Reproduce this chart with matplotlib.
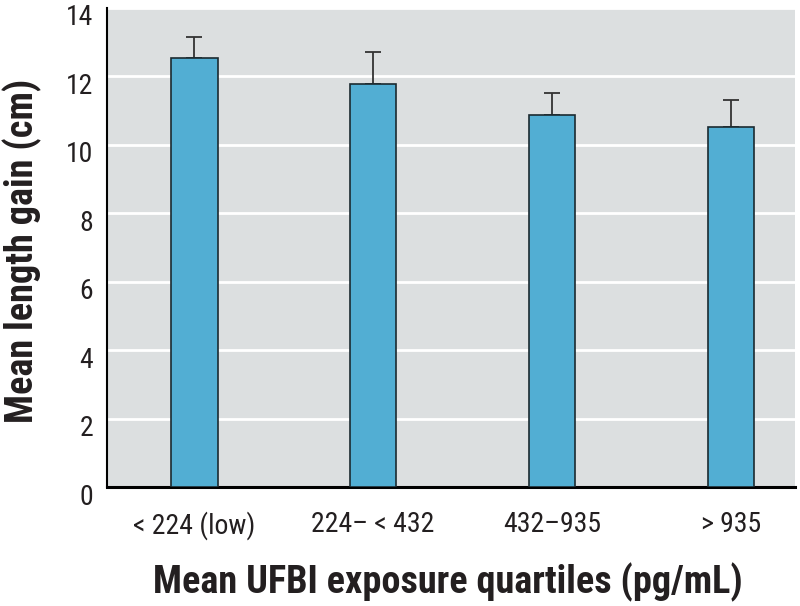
import matplotlib
matplotlib.use("Agg")
import matplotlib.pyplot as plt
from matplotlib.transforms import ScaledTranslation

categories = ["< 224 (low)", "224\u2013 < 432", "432\u2013935", "> 935"]
means = [12.54, 11.78, 10.87, 10.53]
upper_err = [0.62, 0.93, 0.66, 0.78]
yticks = [0, 2, 4, 6, 8, 10, 12, 14]

plt.rcParams['font.family'] = ["Roboto Condensed", "DejaVu Sans"]
txtc = "#231f20"

fig = plt.figure(figsize=(8, 6.06), dpi=100)
ax = fig.add_axes([0.134, 0.196, 0.86, 0.7908])
ax.set_facecolor("#dcdfe0")
x = list(range(len(categories)))
ax.set_axisbelow(True)
ax.yaxis.grid(True, color="white", linewidth=2)
ax.bar(x, means, width=0.26, color="#52aed3", edgecolor="#1b2a30", linewidth=1.2, zorder=3)
ax.errorbar(x, means, yerr=[[0]*len(means), upper_err], fmt="none", ecolor="#333333",
            elinewidth=1.3, capsize=5.5, capthick=1.3, zorder=2)
ax.set_xlim(-0.487, 3.36)
ax.set_ylim(0, 14.0)
ax.set_yticks(yticks)
ax.set_yticklabels([str(v) for v in yticks], fontsize=20, color=txtc)
ax.set_xticks(x)
ax.set_xticklabels(categories, fontsize=20, color=txtc)
ax.tick_params(axis="y", length=0, pad=10)
ax.tick_params(axis="x", length=0, pad=17)
off = ScaledTranslation(0, -7/100, fig.dpi_scale_trans)
for lab in ax.get_yticklabels():
    lab.set_transform(lab.get_transform() + off)
for s in ["top", "right"]:
    ax.spines[s].set_visible(False)
ax.spines["left"].set_linewidth(1.5)
ax.spines["bottom"].set_linewidth(2.2)
ax.set_ylabel("Mean length gain (cm)", fontsize=27.5, fontweight="bold", color=txtc, va="center")
ax.yaxis.set_label_coords((22.5 - 107) / 688, 0.494)
ax.set_xlabel("Mean UFBI exposure quartiles (pg/mL)", fontsize=27.5, fontweight="bold", color=txtc, va="baseline")
ax.xaxis.set_label_coords((448 - 107) / 688, -0.221)
fig.savefig("out.png", dpi=100)
